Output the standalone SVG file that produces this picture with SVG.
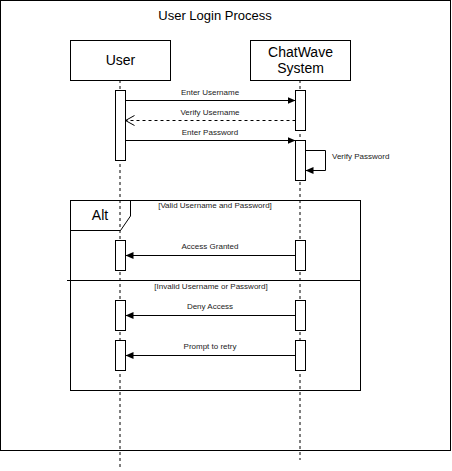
<svg xmlns="http://www.w3.org/2000/svg" width="452" height="471" viewBox="0 0 452 471">
<style>
.frame{fill:#fff;stroke:#000;stroke-width:1}
.box{fill:#fff;stroke:#000;stroke-width:1}
.act{fill:#fff;stroke:#000;stroke-width:1}
.life{stroke:#000;stroke-width:1;stroke-dasharray:3 3;fill:none}
.msg{stroke:#000;stroke-width:1;fill:none}
.dash{stroke-dasharray:3 3}
.t{font-family:"Liberation Sans",Arial,sans-serif;fill:#000}
.big{font-size:14px}
.title{font-size:13px}
.sm{font-size:8px;fill:#222}
</style>
<defs>
<marker id="block" markerUnits="userSpaceOnUse" markerWidth="10" markerHeight="10" refX="8" refY="3.5" orient="auto">
<path d="M0,0 L8,3.5 L0,7 z" fill="#000"/>
</marker>
<marker id="open" markerUnits="userSpaceOnUse" markerWidth="12" markerHeight="12" refX="9" refY="5" orient="auto">
<path d="M0,0 L9,5 L0,10" fill="none" stroke="#000" stroke-width="1"/>
</marker>
</defs>

<g id="outer-frame">
<rect class="frame" x="0.5" y="0.5" width="450" height="450"/>
<text class="t title" x="215" y="19.5" text-anchor="middle">User Login Process</text>
</g>

<g id="lifelines">
<line class="life" x1="120" y1="80" x2="120" y2="467"/>
<line class="life" x1="300" y1="80" x2="300" y2="460"/>
</g>

<g id="user">
<rect class="box" x="70.5" y="40.5" width="100" height="40"/>
<text class="t big" x="120.5" y="65" text-anchor="middle">User</text>
</g>

<g id="chatwave">
<rect class="box" x="250.5" y="40.5" width="100" height="40"/>
<text class="t big" x="300.5" y="57" text-anchor="middle">ChatWave</text>
<text class="t big" x="300.5" y="73" text-anchor="middle">System</text>
</g>

<g id="alt-frame">
<rect x="70.5" y="200.5" width="290" height="190" fill="none" stroke="#000"/>
<path d="M70.5,200.5 H130.5 V216 L120.5,230.5 H70.5" fill="none" stroke="#000"/>
<text class="t big" x="100" y="220" text-anchor="middle">Alt</text>
<line x1="67" y1="280.5" x2="360.5" y2="280.5" stroke="#000"/>
<text class="t sm" x="215" y="208" text-anchor="middle">[Valid Username and Password]</text>
<text class="t sm" x="211" y="289" text-anchor="middle">[Invalid Username or Password]</text>
</g>

<g id="activations">
<rect class="act" x="115.5" y="90.5" width="10" height="70"/>
<rect class="act" x="295.5" y="90.5" width="10" height="40"/>
<rect class="act" x="295.5" y="140.5" width="10" height="40"/>
<rect class="act" x="115.5" y="240.5" width="10" height="30"/>
<rect class="act" x="295.5" y="240.5" width="10" height="30"/>
<rect class="act" x="115.5" y="300.5" width="10" height="30"/>
<rect class="act" x="295.5" y="300.5" width="10" height="30"/>
<rect class="act" x="115.5" y="340.5" width="10" height="30"/>
<rect class="act" x="295.5" y="340.5" width="10" height="30"/>
</g>

<g id="connectors">
<line class="msg" x1="125.5" y1="100.5" x2="295.5" y2="100.5" marker-end="url(#block)"/>
<line class="msg dash" x1="295.5" y1="120.5" x2="125.5" y2="120.5" marker-end="url(#open)"/>
<line class="msg" x1="125.5" y1="140.5" x2="295.5" y2="140.5" marker-end="url(#block)"/>
<path class="msg" d="M305.5,150.5 H325.5 V170.5 H305.5" marker-end="url(#block)"/>
<line class="msg" x1="295.5" y1="255.5" x2="125.5" y2="255.5" marker-end="url(#block)"/>
<line class="msg" x1="295.5" y1="315.5" x2="125.5" y2="315.5" marker-end="url(#block)"/>
<line class="msg" x1="295.5" y1="355.5" x2="125.5" y2="355.5" marker-end="url(#block)"/>
</g>

<g id="labels">
<text class="t sm" x="210" y="95" text-anchor="middle">Enter Username</text>
<text class="t sm" x="210" y="115" text-anchor="middle">Verify Username</text>
<text class="t sm" x="210" y="135" text-anchor="middle">Enter Password</text>
<text class="t sm" x="332" y="159">Verify Password</text>
<text class="t sm" x="210" y="249" text-anchor="middle">Access Granted</text>
<text class="t sm" x="210" y="309" text-anchor="middle">Deny Access</text>
<text class="t sm" x="210" y="349" text-anchor="middle">Prompt to retry</text>
</g>
</svg>
